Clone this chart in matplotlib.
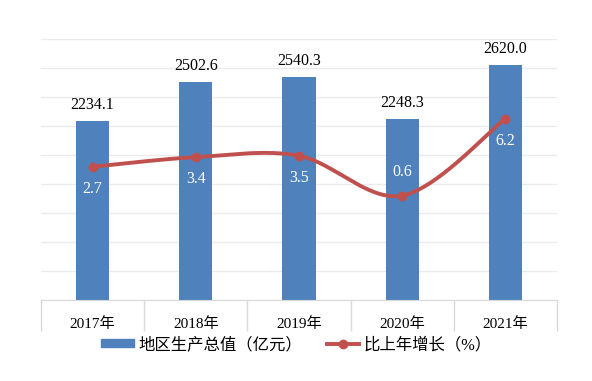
import numpy as np
import matplotlib
matplotlib.use('Agg')
import matplotlib.pyplot as plt
from matplotlib.lines import Line2D
from matplotlib.patches import Patch

plt.rcParams['font.family'] = ['Liberation Serif', 'Noto Sans CJK SC']

years = ['2017年', '2018年', '2019年', '2020年', '2021年']
gdp = [2234.1, 2502.6, 2540.3, 2248.3, 2620.0]
growth = [2.7, 3.4, 3.5, 0.6, 6.2]
growth_label_pos = ['below', 'below', 'below', 'above', 'below']

bar_color = '#4F81BD'
line_color = '#C0504D'
grid_color = '#EBEBEB'
axis_color = '#D9D9D9'


def catmull_rom(xs, ys, n=40):
    # Excel-like smoothed line through every point
    p = np.column_stack([xs, ys]).astype(float)
    p = np.vstack([p[0], p, p[-1]])
    out = []
    t = np.linspace(0, 1, n)[:, None]
    for i in range(1, len(p) - 2):
        p0, p1, p2, p3 = p[i - 1], p[i], p[i + 1], p[i + 2]
        seg = 0.5 * ((2 * p1) + (-p0 + p2) * t
                     + (2 * p0 - 5 * p1 + 4 * p2 - p3) * t ** 2
                     + (-p0 + 3 * p1 - 3 * p2 + p3) * t ** 3)
        out.append(seg if i == 1 else seg[1:])
    out = np.vstack(out)
    return out[:, 0], out[:, 1]


fig = plt.figure(figsize=(5.92, 3.81), dpi=100)
ax = fig.add_axes([41 / 592, 81 / 381, 516 / 592, 261 / 381])
x = np.arange(len(years))

ax.bar(x, gdp, width=0.32, color=bar_color, zorder=2)
ax.set_xlim(-0.5, len(years) - 0.5)
ax.set_ylim(1000, 2800)
ax.set_yticks(np.arange(1000, 2801, 200))
ax.yaxis.grid(True, color=grid_color, linewidth=1, zorder=0)
ax.set_axisbelow(True)
for s in ['top', 'right', 'left']:
    ax.spines[s].set_visible(False)
ax.spines['bottom'].set_color(axis_color)

ax.set_xticks(x)
ax.set_xticklabels(years, fontsize=11)
ax.set_xticks(np.arange(-0.5, len(years)), minor=True)
ax.tick_params(axis='x', which='major', length=0, pad=12)
ax.tick_params(axis='x', which='minor', length=22, width=1,
               color=axis_color, direction='out')

for xi, v in zip(x, gdp):
    ax.annotate(f'{v:.1f}', (xi, v), xytext=(0, 8), textcoords='offset pixels',
                ha='center', va='bottom', fontsize=11.5, color='black')

ax2 = ax.twinx()
ax2.set_ylim(-7, 12)
ax2.axis('off')
# twinx turns the left ticks back on
ax.tick_params(axis='y', which='both', left=False, right=False,
               labelleft=False, labelright=False)

sx, sy = catmull_rom(x, growth)
ax2.plot(sx, sy, color=line_color, linewidth=2.8, zorder=3,
         solid_capstyle='round')
ax2.plot(x, growth, 'o', color=line_color, markersize=6, zorder=4)
for xi, v, pos in zip(x, growth, growth_label_pos):
    dy = -22 if pos == 'below' else 24
    ax2.annotate(f'{v:.1f}', (xi, v), xytext=(0, dy), textcoords='offset pixels',
                 ha='center', va='center', fontsize=11.5, color='white')

handles = [Patch(color=bar_color),
           Line2D([0], [0], color=line_color, linewidth=2.8,
                  marker='o', markersize=6)]
fig.legend(handles, ['地区生产总值（亿元）', '比上年增长（%）'], loc='center',
           bbox_to_anchor=(0.501, 1 - 345 / 381), ncol=2, frameon=False,
           fontsize=11.8, handlelength=2.0, handletextpad=0.25,
           columnspacing=1.5, handleheight=0.35)

fig.savefig('out.png', dpi=100)
